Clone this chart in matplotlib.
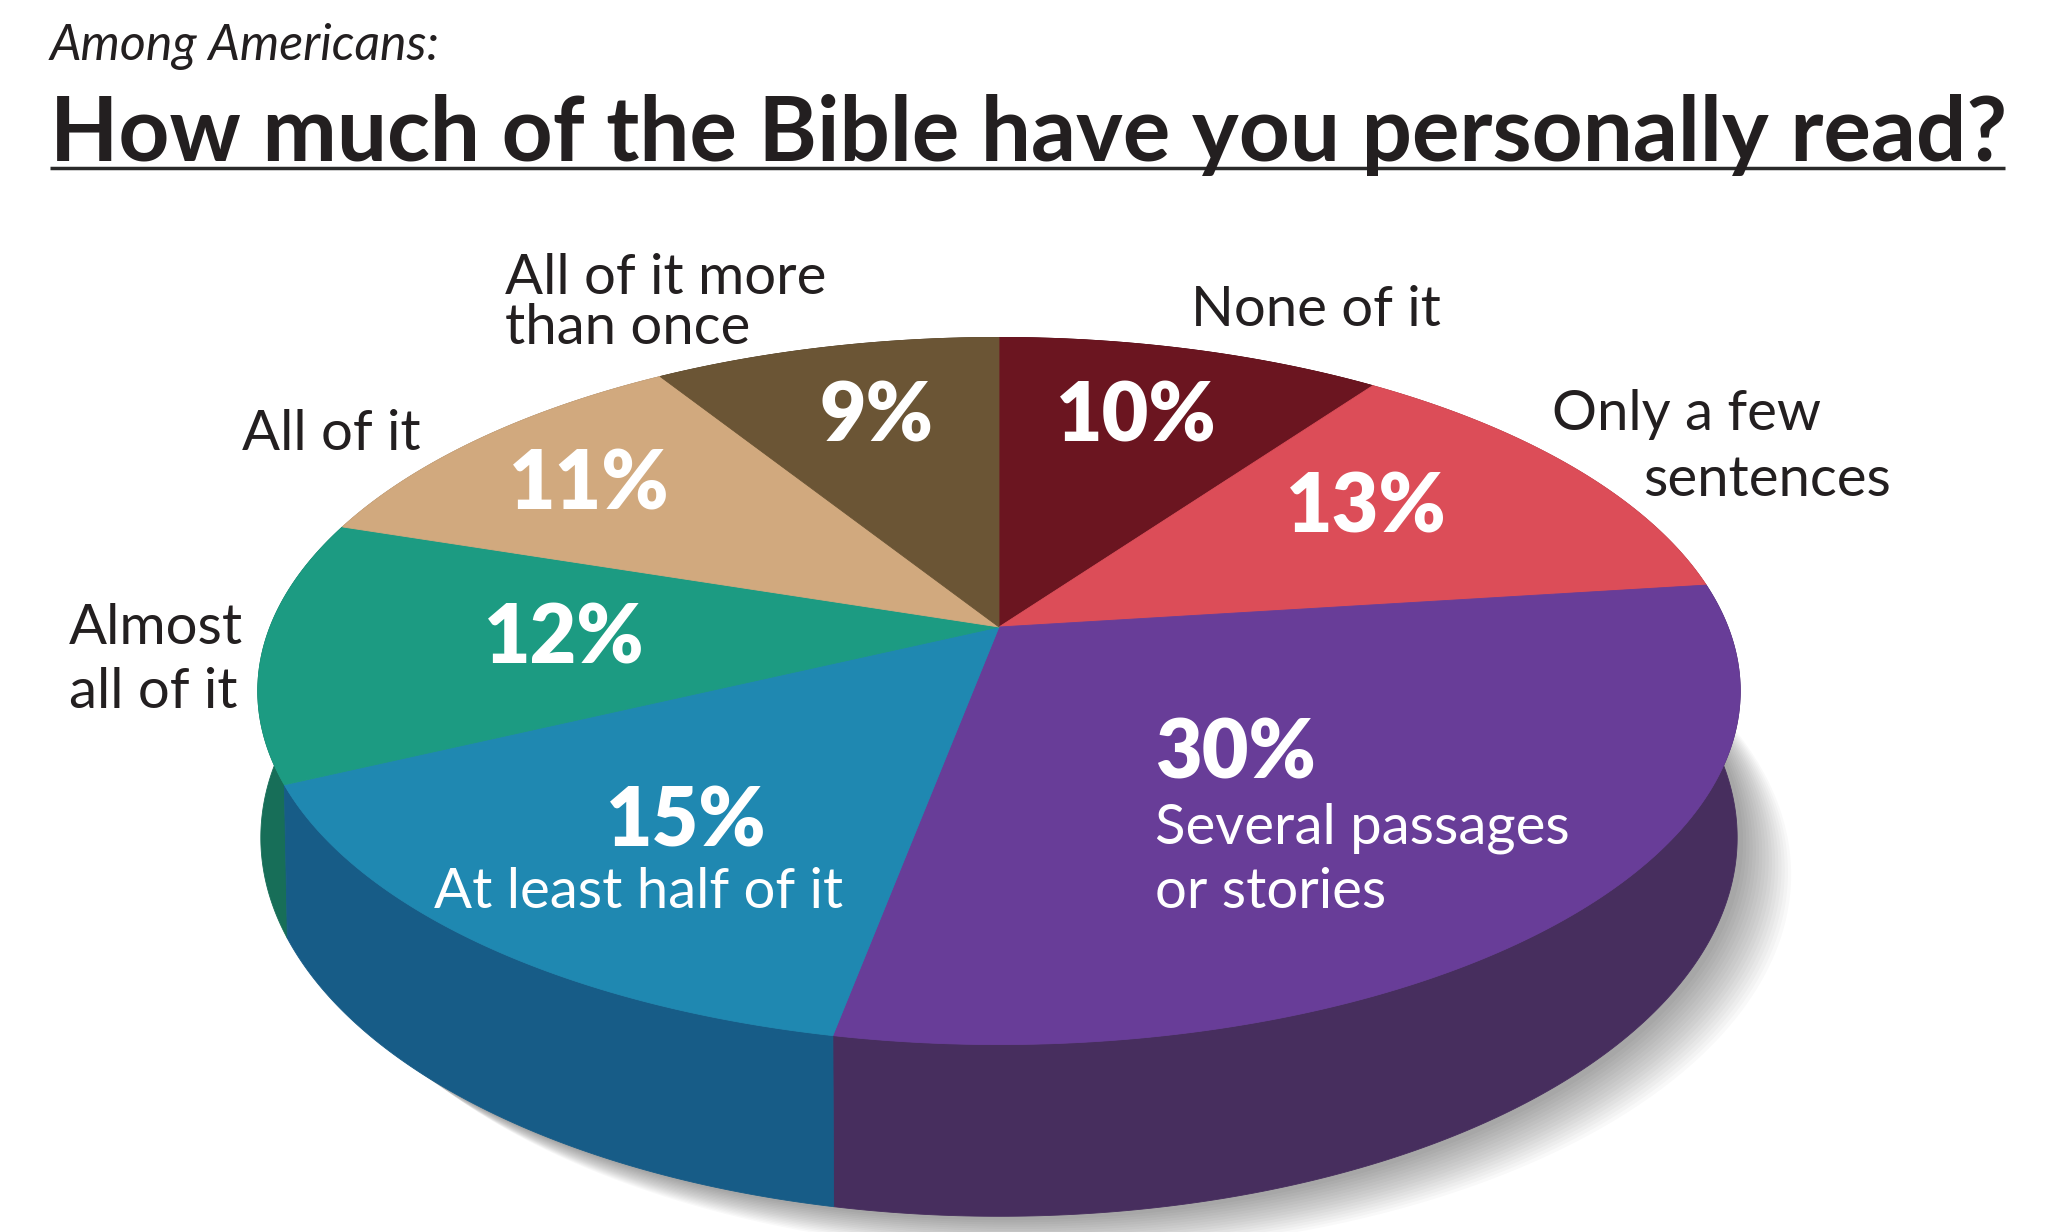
import numpy as np
import matplotlib
matplotlib.use("Agg")
import matplotlib.pyplot as plt
from matplotlib.patches import Polygon

plt.rcParams['font.family'] = ['Lato', 'DejaVu Sans']

# data (clockwise from 12 o'clock)
answers = ["None of it", "Only a few sentences", "Several passages or stories",
           "At least half of it", "Almost all of it", "All of it",
           "All of it more than once"]
shares = [10, 13, 30, 15, 12, 11, 9]
top_colors = ["#6B1520", "#DC4D58", "#683D98", "#1F88B1", "#1C9B82", "#D1A97E", "#6B5535"]
side_colors = ["#4A0F16", "#9A363E", "#472E5E", "#175C87", "#176E58", "#927658", "#4A3B25"]

# perspective of the disc (pixels)
cx, cy = 999, 627
rx, ry = 729, 342
a, c, h = 0.181, 0.004, 143


def project(theta, depth=0.0):
    X = np.sin(theta)
    Y = np.cos(theta)
    s = 1.0 / (1 + a * Y + c * depth)
    return cx + rx * X * s, cy - ry * Y * s + h * depth * s


fig = plt.figure(figsize=(20.48, 12.32), dpi=100)
ax = fig.add_axes([0, 0, 1, 1])
ax.set_xlim(0, 2048)
ax.set_ylim(1232, 0)
ax.axis('off')

fracs = np.array(shares) / np.sum(shares)
edges = np.concatenate([[0], np.cumsum(fracs)]) * 2 * np.pi

# soft shadow
full = np.linspace(0, 2 * np.pi, 400)
bx, by = project(full, 1.0)
for k in range(16):
    ox, oy = 6 + k * 3.2, 4 + k * 2.2
    ax.add_patch(Polygon(np.column_stack([bx + ox, by + oy]), closed=True,
                         facecolor='black', edgecolor='none', alpha=0.022, zorder=1))

# side walls, far ones first
order = sorted(range(len(shares)), key=lambda i: -np.mean(np.cos(np.linspace(edges[i], edges[i + 1], 50))))
for i in order:
    th = np.linspace(edges[i], edges[i + 1], 200)
    tx, ty = project(th, 0.0)
    bx2, by2 = project(th, 1.0)
    pts = np.column_stack([np.concatenate([tx, bx2[::-1]]), np.concatenate([ty, by2[::-1]])])
    ax.add_patch(Polygon(pts, closed=True, facecolor=side_colors[i],
                         edgecolor=side_colors[i], lw=0.6, zorder=2))

# top face
for i in range(len(shares)):
    th = np.linspace(edges[i], edges[i + 1], 200)
    tx, ty = project(th, 0.0)
    pts = np.column_stack([np.concatenate([[cx], tx]), np.concatenate([[cy], ty])])
    ax.add_patch(Polygon(pts, closed=True, facecolor=top_colors[i],
                         edgecolor=top_colors[i], lw=0.6, zorder=3))

# percent labels
pct_pos = [(1136, 418), (1366, 509), (1155, 755), (686, 823), (564, 640), (589, 486), (876, 418)]
pct_ha = ['center', 'center', 'left', 'center', 'center', 'center', 'center']
for i, v in enumerate(shares):
    ax.text(pct_pos[i][0], pct_pos[i][1], f"{v}%", color='white', fontsize=58,
            fontweight='heavy', ha=pct_ha[i], va='center', zorder=5)

# category labels
dark = '#231F20'
inside = [(639, 893, "At least half of it", 'center'),
          (1155, 828, "Several passages", 'left'),
          (1155, 893, "or stories", 'left')]
for x, y, s, ha in inside:
    ax.text(x, y, s, color='white', fontsize=40.5, ha=ha, va='center', zorder=5)

outside = [(1191, 310, "None of it"),
           (1552, 415, "Only a few"),
           (1643, 481, "sentences"),
           (505, 278, "All of it more"),
           (505, 328, "than once"),
           (242, 434, "All of it"),
           (69, 629, "Almost"),
           (69, 692, "all of it")]
for x, y, s in outside:
    ax.text(x, y, s, color=dark, fontsize=40.5, ha='left', va='center', zorder=5)

ax.text(50, 47, "Among Americans:", color=dark, fontsize=36, style='italic',
        fontweight='normal', ha='left', va='center')
ax.text(50, 161, "How much of the Bible have you personally read?", color=dark,
        fontsize=64, fontweight='bold', ha='left', va='baseline')
ax.plot([50, 2005], [168, 168], color='#2a2a2a', lw=2.5, solid_capstyle='butt')

fig.savefig("out.png", dpi=100)
